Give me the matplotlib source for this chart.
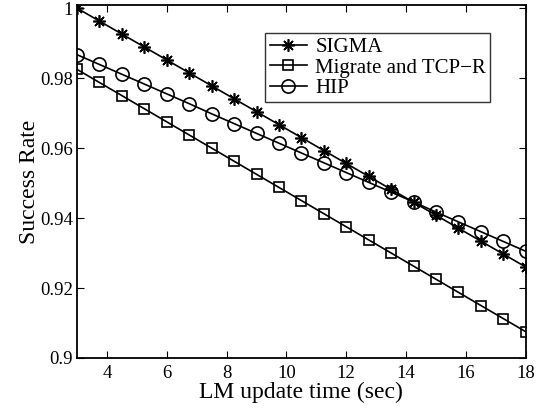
import numpy as np
import matplotlib
matplotlib.use("Agg")
import matplotlib.pyplot as plt

plt.rcParams['font.family'] = ['Liberation Serif', 'DejaVu Serif']
plt.rcParams['mathtext.fontset'] = 'stix'

x_vals = [3.0, 3.75, 4.5, 5.25, 6.0, 6.75, 7.5, 8.25, 9.0, 9.75, 10.5,
          11.25, 12.0, 12.75, 13.5, 14.25, 15.0, 15.75, 16.5, 17.25, 18.0]
sigma = [1.0000, 0.9963, 0.9926, 0.9889, 0.9852, 0.9815, 0.9778, 0.9741, 0.9704, 0.9667, 0.9630,
         0.9593, 0.9556, 0.9519, 0.9482, 0.9445, 0.9408, 0.9371, 0.9334, 0.9297, 0.9260]
migrate = [0.9825, 0.97875, 0.9750, 0.97125, 0.9675, 0.96375, 0.9600, 0.95625, 0.9525, 0.94875, 0.9450,
           0.94125, 0.9375, 0.93375, 0.9300, 0.92625, 0.9225, 0.91875, 0.9150, 0.91125, 0.9075]
hip = [0.9867, 0.9839, 0.9811, 0.9783, 0.9755, 0.9727, 0.9698, 0.9670, 0.9642, 0.9614, 0.9586,
       0.9558, 0.9530, 0.9502, 0.9474, 0.9446, 0.9417, 0.9389, 0.9361, 0.9333, 0.9305]
labels = ["SIGMA", "Migrate and TCP\u2212R", "HIP"]
xticks = [4, 6, 8, 10, 12, 14, 16, 18]
yticks = [0.9, 0.92, 0.94, 0.96, 0.98, 1.0]
ytick_labels = ["0.9", "0.92", "0.94", "0.96", "0.98", "1"]

fig = plt.figure(figsize=(5.46, 4.13), dpi=100)
ax = fig.add_axes([0.141, 0.1332, 0.822, 0.8547])

ax.plot(x_vals, sigma, color='black', lw=1.2, marker=(8, 2, 0), ms=9, mew=1.2,
        mec='black', label=labels[0])
ax.plot(x_vals, migrate, color='black', lw=1.2, marker='s', ms=7.5, mew=1.2,
        mfc='none', label=labels[1])
ax.plot(x_vals, hip, color='black', lw=1.2, marker='o', ms=9.5, mew=1.2,
        mfc='none', label=labels[2])

ax.set_xlim(3, 18)
ax.set_ylim(0.9, 1.0009)
ax.set_xticks(xticks)
ax.set_yticks(yticks)
ax.set_yticklabels(ytick_labels)
ax.tick_params(direction='in', top=True, right=True, labelsize=13.5, length=5, width=0.8)
ax.tick_params(axis='x', pad=5)
ax.tick_params(axis='y', pad=3)
for s in ax.spines.values():
    s.set_linewidth(1.3)

ax.set_xlabel("LM update time (sec)", fontsize=17, labelpad=0)
ax.set_ylabel("Success Rate", fontsize=17, labelpad=0)

leg = ax.legend(loc='upper left', bbox_to_anchor=(0.42, 0.92), fontsize=15,
                frameon=True, fancybox=False, edgecolor='black', borderpad=0.2,
                labelspacing=0.05, handlelength=1.8, handletextpad=0.4, borderaxespad=0)
leg.get_frame().set_linewidth(1.0)

fig.savefig("out.png", dpi=100)
